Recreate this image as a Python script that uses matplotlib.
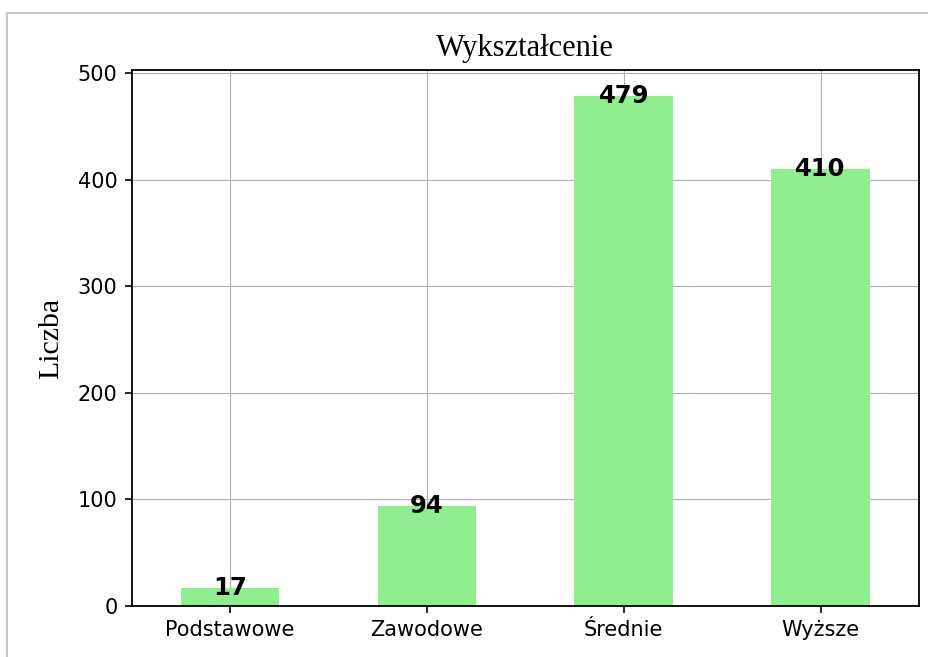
import matplotlib.pyplot as plt
from matplotlib.lines import Line2D

categories = ["Podstawowe", "Zawodowe", "Średnie", "Wyższe"]
counts = [17, 94, 479, 410]

fig = plt.figure(figsize=(9.29, 6.57), dpi=100)

# screenshot frame (top and left edges only)
fx, fy = 7 / 929, 1 - 13 / 657
fig.add_artist(Line2D([fx, 1.0], [fy, fy], transform=fig.transFigure, color="#c8c8c8", linewidth=1.5))
fig.add_artist(Line2D([fx, fx], [0, fy], transform=fig.transFigure, color="#c8c8c8", linewidth=1.5))

ax = fig.add_axes([131.5 / 929, 51 / 657, (919 - 131.5) / 929, (606 - 70) / 657])
x = range(len(categories))
ax.bar(x, counts, width=0.5, color="lightgreen", zorder=2)
ax.set_xlim(-0.5, 3.5)
ax.set_ylim(0, max(counts) * 1.05)
ax.set_xticks(list(x))
ax.set_xticklabels(categories, fontsize=15)
ax.tick_params(axis="y", labelsize=15)
ax.tick_params(width=1.2, length=5, pad=5)
ax.grid(True, color="#b0b0b0", zorder=0)
ax.set_axisbelow(True)
for s in ax.spines.values():
    s.set_linewidth(1.3)

for xi, v in zip(x, counts):
    ax.text(xi, v, str(v), ha="center", va="center", fontsize=17.5, fontweight="bold", zorder=3)

ax.set_title("Wykształcenie", family="Liberation Serif", fontsize=22, pad=10)
ax.set_ylabel("Liczba", family="Liberation Serif", fontsize=21.5, labelpad=10)

fig.savefig("out.png", dpi=100)
